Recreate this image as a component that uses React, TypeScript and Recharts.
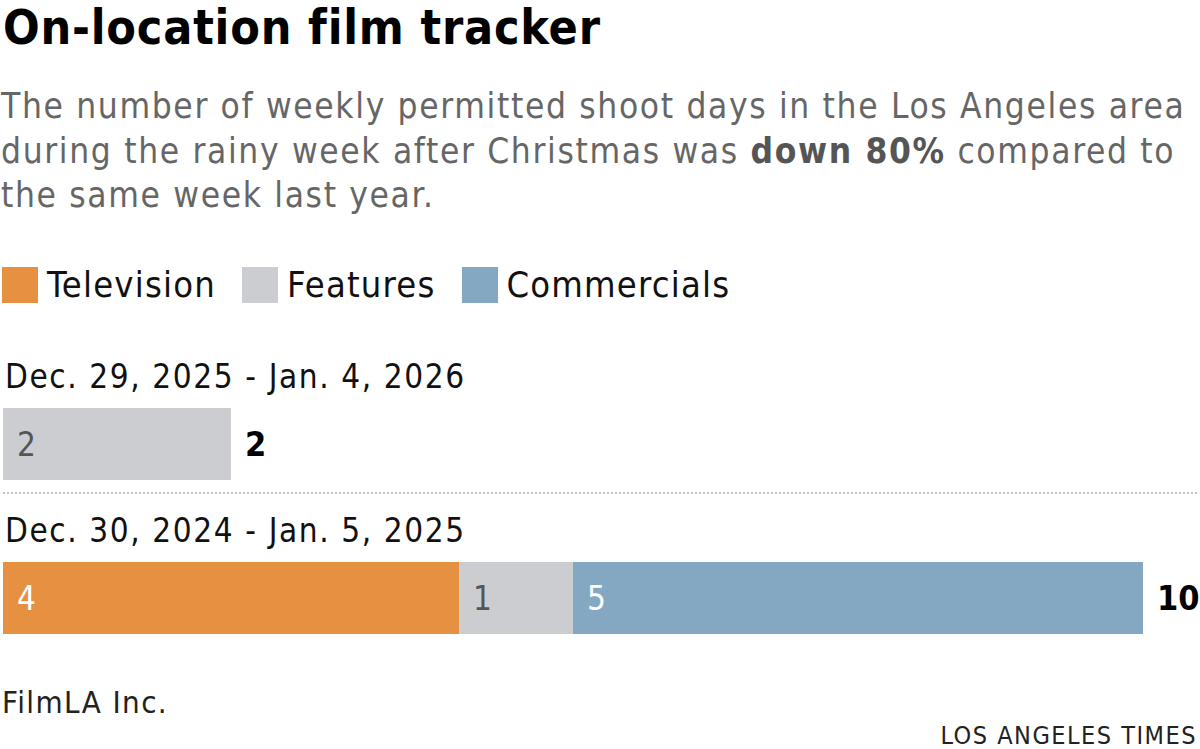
import React from "react";
import { BarChart, Bar, XAxis, YAxis, LabelList } from "recharts";

const weeks = ["Dec. 29, 2025 - Jan. 4, 2026", "Dec. 30, 2024 - Jan. 5, 2025"];
const television = [0, 4];
const features = [2, 1];
const commercials = [0, 5];

const seriesNames = ["Television", "Features", "Commercials"];
const seriesColors = ["#E59141", "#CBCDD1", "#84A8C2"];

const FONT = '"DejaVu Sans Condensed", "DejaVu Sans", sans-serif';

const data = weeks.map((week, i) => ({
  week,
  television: television[i],
  features: features[i],
  commercials: commercials[i],
  total: television[i] + features[i] + commercials[i],
}));

// label inside each segment, skipped when the value is 0
const segmentLabel = (color: string) => (props: any) => {
  const { x, y, height, value } = props;
  const v = Array.isArray(value) ? value[1] - value[0] : value;
  if (!v) return null;
  return (
    <text
      x={x + 14}
      y={y + height / 2 + 12}
      fontSize={33}
      fill={color}
      fontFamily={FONT}
    >
      {v}
    </text>
  );
};

// week name above the bar, total at the end, dotted rule between rows
const RowLabel = (props: any) => {
  const { x, y, width, height, index, value } = props;
  return (
    <g>
      <text
        x={5}
        y={y - 20}
        fontSize={33}
        fill="#111"
        fontFamily={FONT}
        letterSpacing={1.6}
      >
        {weeks[index]}
      </text>
      <text
        x={x + width + 14}
        y={y + height / 2 + 12}
        fontSize={34}
        fontWeight="bold"
        fill="#000"
        fontFamily={FONT}
      >
        {value}
      </text>
      {index === 0 && (
        <line
          x1={3}
          x2={1197}
          y1={y + height + 13}
          y2={y + height + 13}
          stroke="#c4c4c4"
          strokeWidth={2}
          strokeDasharray="2 2"
        />
      )}
    </g>
  );
};

const App = () => {
  return (
    <div
      style={{
        position: "absolute",
        left: 0,
        top: 0,
        width: 1200,
        height: 749,
        background: "#fff",
        fontFamily: FONT,
        overflow: "hidden",
      }}
    >
      <div
        style={{
          position: "absolute",
          left: 3,
          top: 2,
          fontSize: 48,
          lineHeight: "50px",
          fontWeight: "bold",
          color: "#000",
          whiteSpace: "nowrap",
          letterSpacing: 0.8,
        }}
      >
        On-location film tracker
      </div>
      <div
        style={{
          position: "absolute",
          left: 1,
          top: 84,
          fontSize: 35,
          lineHeight: "44.5px",
          color: "#666",
          whiteSpace: "nowrap",
          letterSpacing: 1.65,
        }}
      >
        The number of weekly permitted shoot days in the Los Angeles area
        <br />
        during the rainy week after Christmas was{" "}
        <b style={{ color: "#555" }}>down 80%</b> compared to
        <br />
        the same week last year.
      </div>

      <div style={{ position: "absolute", left: 2, top: 267, display: "flex" }}>
        {seriesNames.map((name, i) => (
          <div
            key={name}
            style={{ display: "flex", alignItems: "center", marginRight: 26 }}
          >
            <div
              style={{
                width: 36,
                height: 36,
                background: seriesColors[i],
                marginRight: 9,
              }}
            />
            <span
              style={{
                fontSize: 36,
                color: "#111",
                lineHeight: "36px",
                letterSpacing: 1.2,
              }}
            >
              {name}
            </span>
          </div>
        ))}
      </div>

      <div style={{ position: "absolute", left: 0, top: 0 }}>
        <BarChart
          width={1200}
          height={749}
          data={data}
          layout="vertical"
          margin={{ top: 367, right: 57, bottom: 74, left: 3 }}
          barSize={72}
        >
          <XAxis xAxisId="stack" type="number" domain={[0, 10]} hide />
          <XAxis xAxisId="total" type="number" domain={[0, 10]} hide />
          <YAxis yAxisId="stack" type="category" dataKey="week" hide />
          <YAxis yAxisId="total" type="category" dataKey="week" hide />
          <Bar
            dataKey="total"
            xAxisId="total"
            yAxisId="total"
            fill="none"
            isAnimationActive={false}
          >
            <LabelList dataKey="total" content={RowLabel} />
          </Bar>
          <Bar
            dataKey="television"
            stackId="a"
            xAxisId="stack"
            yAxisId="stack"
            fill={seriesColors[0]}
            isAnimationActive={false}
          >
            <LabelList dataKey="television" content={segmentLabel("#fff")} />
          </Bar>
          <Bar
            dataKey="features"
            stackId="a"
            xAxisId="stack"
            yAxisId="stack"
            fill={seriesColors[1]}
            isAnimationActive={false}
          >
            <LabelList dataKey="features" content={segmentLabel("#555")} />
          </Bar>
          <Bar
            dataKey="commercials"
            stackId="a"
            xAxisId="stack"
            yAxisId="stack"
            fill={seriesColors[2]}
            isAnimationActive={false}
          >
            <LabelList dataKey="commercials" content={segmentLabel("#fff")} />
          </Bar>
        </BarChart>
      </div>

      <div
        style={{
          position: "absolute",
          left: 2,
          top: 684,
          fontSize: 31,
          color: "#222",
          letterSpacing: 1.4,
        }}
      >
        FilmLA Inc.
      </div>
      <div
        style={{
          position: "absolute",
          right: 3,
          top: 721,
          fontSize: 25,
          color: "#222",
          letterSpacing: 1.5,
        }}
      >
        LOS ANGELES TIMES
      </div>
    </div>
  );
};

export default App;
